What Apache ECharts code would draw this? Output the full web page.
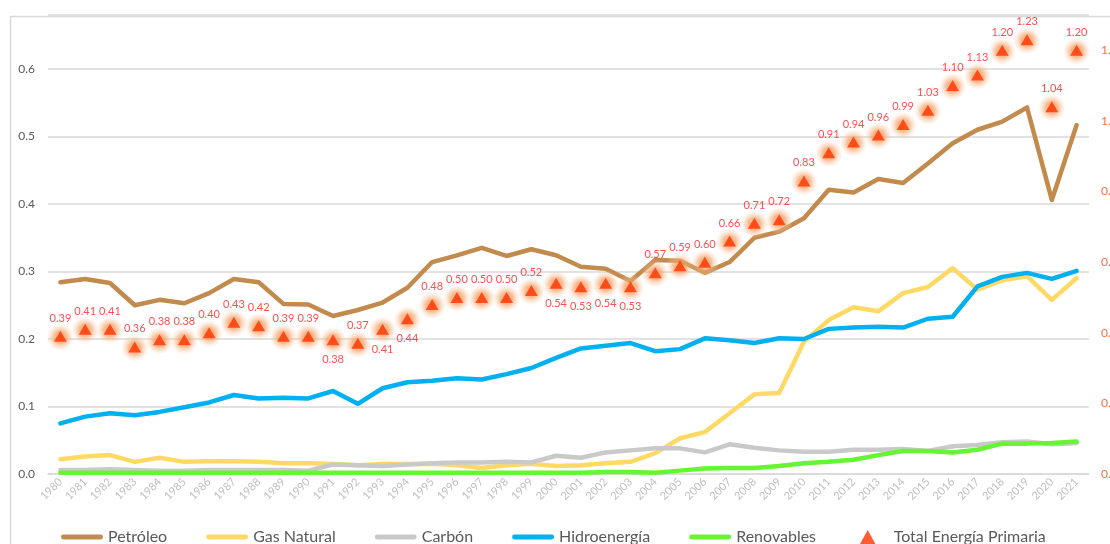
<!DOCTYPE html>
<html>
<head>
<meta charset="utf-8">
<title>Consumo de energía primaria</title>
<script src="https://cdn.jsdelivr.net/npm/echarts@6/dist/echarts.min.js"></script>
<style>
  html, body { margin: 0; padding: 0; background: #fff; }
  #chart { width: 1110px; height: 544px; }
</style>
</head>
<body>
<div id="chart"></div>
<script>
// years on the x axis
var years = []
for (var y = 1980; y <= 2021; y++) years.push(String(y))

// series values (left axis)
var petroleo = [0.284, 0.289, 0.283, 0.250, 0.258, 0.253, 0.268, 0.289, 0.284, 0.252, 0.251, 0.234, 0.243, 0.254, 0.276,
  0.314, 0.324, 0.335, 0.323, 0.333, 0.324, 0.307, 0.304, 0.286, 0.317, 0.316, 0.298, 0.314, 0.350, 0.359, 0.379,
  0.421, 0.417, 0.437, 0.431, 0.460, 0.490, 0.510, 0.522, 0.543, 0.406, 0.517]
var gasNatural = [0.022, 0.026, 0.028, 0.018, 0.024, 0.018, 0.019, 0.019, 0.018, 0.016, 0.016, 0.015, 0.013, 0.015, 0.015,
  0.015, 0.013, 0.009, 0.013, 0.015, 0.012, 0.013, 0.016, 0.018, 0.031, 0.053, 0.062, 0.090, 0.118, 0.120, 0.196,
  0.228, 0.247, 0.241, 0.268, 0.277, 0.305, 0.273, 0.287, 0.293, 0.258, 0.290]
var carbon = [0.006, 0.006, 0.007, 0.006, 0.005, 0.005, 0.006, 0.006, 0.006, 0.006, 0.005, 0.014, 0.013, 0.012, 0.014,
  0.016, 0.017, 0.017, 0.018, 0.017, 0.027, 0.024, 0.032, 0.035, 0.038, 0.038, 0.032, 0.044, 0.039, 0.035, 0.033,
  0.033, 0.036, 0.036, 0.037, 0.034, 0.041, 0.043, 0.047, 0.048, 0.044, 0.046]
var hidroenergia = [0.075, 0.085, 0.090, 0.087, 0.092, 0.099, 0.106, 0.117, 0.112, 0.113, 0.112, 0.123, 0.104, 0.127, 0.136,
  0.138, 0.142, 0.140, 0.148, 0.157, 0.172, 0.186, 0.190, 0.194, 0.182, 0.185, 0.201, 0.198, 0.194, 0.201, 0.200,
  0.215, 0.217, 0.218, 0.217, 0.230, 0.233, 0.278, 0.292, 0.298, 0.289, 0.301]
var renovables = [0.002, 0.002, 0.002, 0.002, 0.002, 0.002, 0.002, 0.002, 0.002, 0.002, 0.002, 0.002, 0.002, 0.002, 0.002,
  0.002, 0.002, 0.002, 0.002, 0.002, 0.002, 0.002, 0.003, 0.003, 0.002, 0.005, 0.008, 0.009, 0.009, 0.012, 0.016,
  0.018, 0.021, 0.028, 0.034, 0.034, 0.032, 0.036, 0.045, 0.045, 0.046, 0.048]

// total primary energy (right axis)
var totalPrimaria = [0.39, 0.41, 0.41, 0.36, 0.38, 0.38, 0.40, 0.43, 0.42, 0.39, 0.39, 0.38, 0.37, 0.41, 0.44,
  0.48, 0.50, 0.50, 0.50, 0.52, 0.54, 0.53, 0.54, 0.53, 0.57, 0.59, 0.60, 0.66, 0.71, 0.72, 0.83,
  0.91, 0.94, 0.96, 0.99, 1.03, 1.10, 1.13, 1.20, 1.23, 1.04, 1.20]
// years whose label sits under the marker
var labelsBelow = ['1991', '1993', '1994', '2000', '2001', '2002', '2003']

var chart = echarts.init(document.getElementById('chart'))

var FONT = 'Lato, "Liberation Sans", sans-serif'
var LINE_ICON = 'path://M2,0 L40,0 A2.5,2.5 0 0 1 40,5 L2,5 A2.5,2.5 0 0 1 2,0 Z'
var TRI_ICON = 'path://M5.5,0 L11,10 L0,10 Z'

function lineSeries(name, data, color) {
  return {
    name: name,
    type: 'line',
    data: data,
    symbol: 'none',
    smooth: false,
    lineStyle: { color: color, width: 4.5, cap: 'round', join: 'round' },
    itemStyle: { color: color },
    z: 2
  }
}

var totalData = totalPrimaria.map(function(v, i) {
  var item = { value: v }
  if (labelsBelow.indexOf(years[i]) !== -1) {
    item.label = { position: 'bottom', distance: 9 }
  }
  return item
})

chart.setOption({
  backgroundColor: '#fff',
  animation: false,
  textStyle: { fontFamily: FONT },
  graphic: [{
    type: 'rect',
    left: 8,
    top: 14,
    shape: { x: 0, y: 0, width: 1120, height: 560 },
    style: { fill: 'none', stroke: '#D9D9D9', lineWidth: 1.5 },
    silent: true,
    z: -10
  }],
  grid: {
    left: 48,
    right: 21,
    top: 15,
    bottom: 70,
    containLabel: false,
    outerBoundsMode: 'none'
  },
  legend: [{
    left: 56,
    top: 524,
    itemGap: 39,
    itemWidth: 42,
    itemHeight: 14,
    textStyle: { fontSize: 16, color: '#595959', fontFamily: FONT },
    data: [
      { name: 'Petróleo', icon: LINE_ICON },
      { name: 'Gas Natural', icon: LINE_ICON },
      { name: 'Carbón', icon: LINE_ICON },
      { name: 'Hidroenergía', icon: LINE_ICON },
      { name: 'Renovables', icon: LINE_ICON }
    ]
  }, {
    left: 855,
    top: 524,
    itemWidth: 42,
    itemHeight: 14,
    textStyle: { fontSize: 16, color: '#595959', fontFamily: FONT },
    data: [{ name: 'Total Energía Primaria', icon: TRI_ICON }]
  }],
  xAxis: {
    type: 'category',
    data: years,
    boundaryGap: true,
    axisTick: { show: false },
    axisLine: { lineStyle: { color: '#D9D9D9', width: 1.5 } },
    axisLabel: {
      interval: 0,
      rotate: 45,
      margin: 6,
      fontSize: 11,
      color: '#BFBFBF',
      fontFamily: FONT
    }
  },
  yAxis: [{
    type: 'value',
    min: 0,
    max: 0.68,
    interval: 0.1,
    axisLine: { show: false },
    axisTick: { show: false },
    splitLine: { lineStyle: { color: '#D9D9D9', width: 1.5 } },
    axisLabel: {
      showMaxLabel: false,
      margin: 13,
      fontSize: 12,
      color: '#595959',
      formatter: function(v) { return v.toFixed(1) }
    }
  }, {
    type: 'value',
    min: 0,
    max: 1.3,
    interval: 0.2,
    axisLine: { show: false },
    axisTick: { show: false },
    splitLine: { show: false },
    axisLabel: {
      showMaxLabel: false,
      margin: 12,
      fontSize: 12,
      color: '#FF6B47',
      formatter: function(v) { return v.toFixed(1) }
    }
  }],
  series: [
    lineSeries('Petróleo', petroleo, '#C28A4C'),
    lineSeries('Gas Natural', gasNatural, '#FFD966'),
    lineSeries('Carbón', carbon, '#C9C9C9'),
    lineSeries('Hidroenergía', hidroenergia, '#00B0F0'),
    lineSeries('Renovables', renovables, '#66F533'),
    {
      // soft orange halo under each triangle
      name: 'glow',
      type: 'scatter',
      yAxisIndex: 1,
      data: totalPrimaria,
      symbol: 'circle',
      symbolSize: 28,
      symbolOffset: [0, 1],
      silent: true,
      z: 4,
      itemStyle: {
        color: {
          type: 'radial', x: 0.5, y: 0.5, r: 0.5,
          colorStops: [
            { offset: 0, color: 'rgba(244, 140, 70, 1)' },
            { offset: 0.45, color: 'rgba(246, 160, 100, 0.85)' },
            { offset: 0.75, color: 'rgba(249, 190, 150, 0.4)' },
            { offset: 1, color: 'rgba(252, 215, 190, 0)' }
          ]
        }
      }
    },
    {
      name: 'Total Energía Primaria',
      type: 'scatter',
      yAxisIndex: 1,
      data: totalData,
      symbol: 'triangle',
      symbolSize: [13, 11],
      z: 5,
      itemStyle: { color: '#FF3300' },
      label: {
        show: true,
        position: 'top',
        distance: 7,
        fontSize: 11,
        color: '#FF1F1F',
        fontFamily: FONT,
        formatter: function(p) { return p.value.toFixed(2) }
      }
    }
  ]
})
</script>
</body>
</html>
